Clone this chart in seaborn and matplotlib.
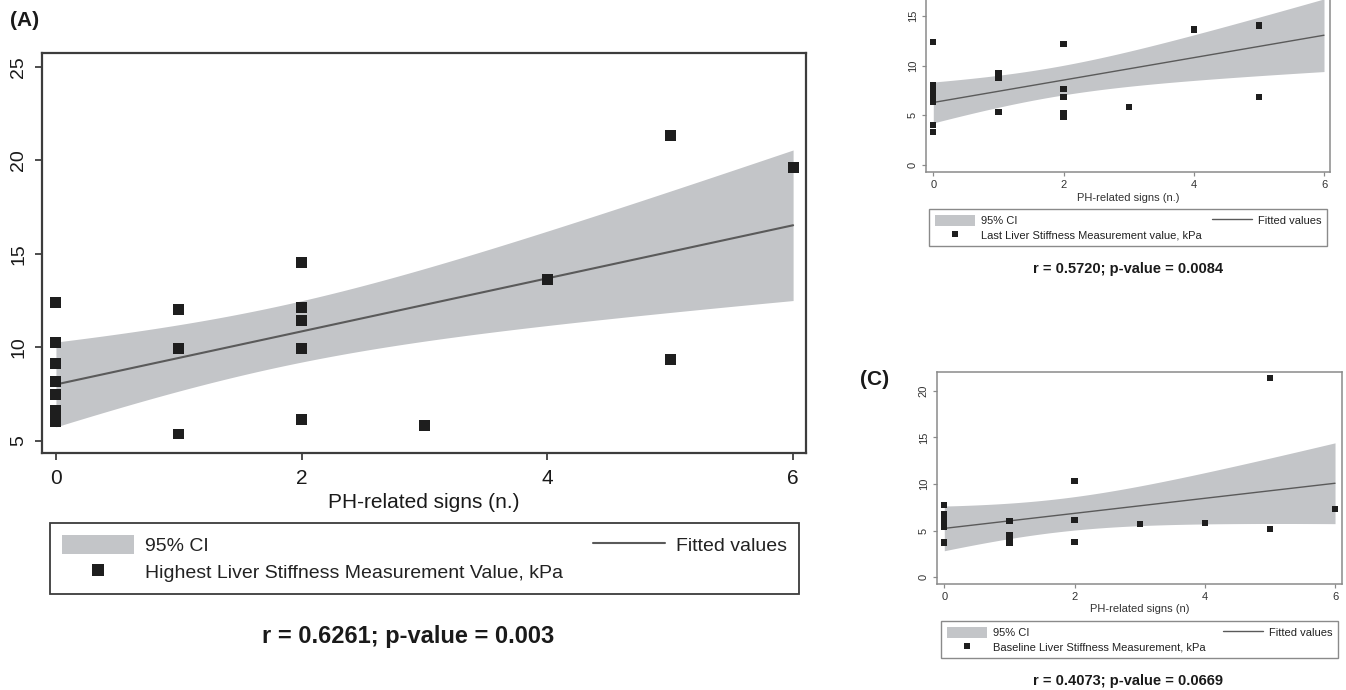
import numpy as np
import seaborn as sns
import matplotlib.pyplot as plt
from matplotlib.patches import Patch
from matplotlib.lines import Line2D

# PH-related signs vs liver stiffness (kPa)
signs_a = [0, 0, 0, 0, 0, 0, 0, 1, 1, 1, 2, 2, 2, 2, 2, 3, 4, 5, 5, 6]
lsm_a = [12.4, 10.25, 9.15, 8.17, 7.46, 6.64, 6.01, 12.03, 9.94, 5.36,
         14.52, 12.13, 11.42, 9.94, 6.16, 5.82, 13.63, 21.33, 9.32, 19.6]

signs_b = [0, 0, 0, 0, 0, 0, 0, 1, 1, 1, 2, 2, 2, 2, 2, 3, 4, 5, 5, 6]
lsm_b = [12.41, 8.07, 7.46, 6.86, 6.32, 4.0, 3.33, 9.21, 8.8, 5.35,
         12.14, 7.63, 6.83, 5.2, 4.85, 5.8, 13.64, 14.04, 6.83, 17.4]

signs_c = [0, 0, 0, 0, 0, 0, 0, 1, 1, 1, 1, 2, 2, 2, 3, 4, 5, 5, 6]
lsm_c = [7.75, 6.75, 6.45, 6.2, 5.95, 5.35, 3.7, 6.03, 4.5, 4.15, 3.7,
         10.36, 6.16, 3.73, 5.66, 5.77, 21.36, 5.16, 7.28]

stats_a = "r = 0.6261; p-value = 0.003"
stats_b = "r = 0.5720; p-value = 0.0084"
stats_c = "r = 0.4073; p-value = 0.0669"

ci_grey = "#c3c5c8"
fit_grey = "#5a5a5a"
dot_col = "#1e1e1e"

sns.set_theme(style="white")
plt.rcParams["font.family"] = ["Liberation Sans", "DejaVu Sans"]


def t975(df):
    # Cornish-Fisher approximation of the 97.5% t quantile
    z = 1.959964
    return z + (z**3 + z) / (4 * df) + (5 * z**5 + 16 * z**3 + 3 * z) / (96 * df**2)


def fit_ci(x, y):
    x = np.asarray(x, float)
    y = np.asarray(y, float)
    n = len(x)
    slope, icpt = np.polyfit(x, y, 1)
    xs = np.linspace(x.min(), x.max(), 120)
    yhat = icpt + slope * xs
    resid = y - (icpt + slope * x)
    s = np.sqrt((resid**2).sum() / (n - 2))
    se = s * np.sqrt(1 / n + (xs - x.mean())**2 / ((x - x.mean())**2).sum())
    half = t975(n - 2) * se
    return xs, yhat, yhat - half, yhat + half


def panel(ax, x, y, ms, lw_fit):
    xs, yhat, lo, hi = fit_ci(x, y)
    ax.fill_between(xs, lo, hi, color=ci_grey, lw=0, zorder=1)
    sns.lineplot(x=xs, y=yhat, ax=ax, color=fit_grey, lw=lw_fit, zorder=2)
    sns.scatterplot(x=x, y=y, ax=ax, marker="s", s=ms, color=dot_col,
                    edgecolor="none", linewidth=0, zorder=3)


def style(ax, xlim, ylim, yticks, fs, spine_col, spine_lw, tlen, ypad, xpad, lab_col):
    ax.set_xlim(*xlim)
    ax.set_ylim(*ylim)
    ax.set_xticks([0, 2, 4, 6])
    ax.set_yticks(yticks)
    for sp in ax.spines.values():
        sp.set_color(spine_col)
        sp.set_linewidth(spine_lw)
    ax.tick_params(axis="both", direction="out", length=tlen, width=spine_lw * 0.8,
                   color=spine_col, labelsize=fs, labelcolor=lab_col,
                   bottom=True, left=True)
    ax.tick_params(axis="y", pad=ypad)
    ax.tick_params(axis="x", pad=xpad)
    for lab in ax.get_yticklabels():
        lab.set_rotation(90)
        lab.set_va("center")
    ax.grid(False)


def key(ax, label, box, fs, hl, hh, ms, lw_fit, frame_col, frame_lw, lsp, bpad):
    handles = [Patch(facecolor=ci_grey, edgecolor="none"),
               Line2D([], [], ls="none", marker="s", color=dot_col, markersize=ms, markeredgewidth=0),
               Line2D([], [], color=fit_grey, lw=lw_fit)]
    labels = ["95% CI", label, "Fitted values"]
    leg = ax.legend(handles, labels, ncol=2, mode="expand", loc="upper left",
                    bbox_to_anchor=box, bbox_transform=fig.transFigure,
                    borderaxespad=0, fontsize=fs, handlelength=hl, handleheight=hh,
                    handletextpad=0.55, labelspacing=lsp, borderpad=bpad,
                    fancybox=False, framealpha=1, edgecolor=frame_col)
    leg.get_frame().set_linewidth(frame_lw)
    for t in leg.get_texts():
        t.set_color("#222222")


fig = plt.figure(figsize=(13.46, 6.9), dpi=100)
W, H = 1346, 690

# panel A
ax_a = fig.add_axes([42.3 / W, 1 - 452.7 / H, 763.7 / W, 399.4 / H])
panel(ax_a, signs_a, lsm_a, ms=62, lw_fit=1.5)
style(ax_a, (-0.111, 6.105), (4.36, 25.72), [5, 10, 15, 20, 25], 15,
      "#3c3c3c", 1.6, 5, 6, 7, "#1a1a1a")
ax_a.tick_params(axis="y", labelsize=14)
ax_a.set_xlabel("PH-related signs (n.)", fontsize=15, color="#1a1a1a", labelpad=3)
key(ax_a, "Highest Liver Stiffness Measurement Value, kPa",
    (50 / W, 1 - 592.7 / H, 749 / W, 70 / H), 14, 3.7, 1.13, 8, 1.5, "#3c3c3c", 1.3, 0.36, 0.62)
fig.text(408 / W, 1 - 637 / H, stats_a, ha="center", va="center",
         fontsize=17, fontweight="bold", color="#1a1a1a")
fig.text(25 / W, 1 - 20 / H, "(A)", ha="center", va="center",
         fontsize=15, fontweight="bold", color="#1a1a1a")

# panel B (top of the original is cropped, so the 20 tick is not shown)
ax_b = fig.add_axes([926 / W, 1 - 172 / H, 404 / W, 224.4 / H])
panel(ax_b, signs_b, lsm_b, ms=20, lw_fit=1.0)
style(ax_b, (-0.112, 6.092), (-0.74, 21.9), [0, 5, 10, 15], 8,
      "#8a8a8a", 1.1, 3, 3, 3, "#333333")
ax_b.set_xlabel("PH-related signs (n.)", fontsize=8, color="#333333", labelpad=2)
key(ax_b, "Last Liver Stiffness Measurement value, kPa",
    (929 / W, 1 - 246 / H, 398 / W, 37 / H), 8, 3.6, 1.15, 4, 1.0, "#8a8a8a", 1.0, 0.3, 0.5)
fig.text(1128 / W, 1 - 269.3 / H, stats_b, ha="center", va="center",
         fontsize=10.5, fontweight="bold", color="#1a1a1a")

# panel C
ax_c = fig.add_axes([937 / W, 1 - 584 / H, 405 / W, 212 / H])
panel(ax_c, signs_c, lsm_c, ms=20, lw_fit=1.0)
style(ax_c, (-0.112, 6.107), (-0.75, 22.04), [0, 5, 10, 15, 20], 8,
      "#8a8a8a", 1.1, 3, 3, 2.5, "#333333")
ax_c.set_xlabel("PH-related signs (n)", fontsize=8, color="#333333", labelpad=2)
key(ax_c, "Baseline Liver Stiffness Measurement, kPa",
    (941 / W, 1 - 657 / H, 397 / W, 36 / H), 8, 3.6, 1.15, 4, 1.0, "#8a8a8a", 1.0, 0.3, 0.5)
fig.text(1128 / W, 1 - 680.7 / H, stats_c, ha="center", va="center",
         fontsize=10.5, fontweight="bold", color="#1a1a1a")
fig.text(875 / W, 1 - 379.3 / H, "(C)", ha="center", va="center",
         fontsize=15, fontweight="bold", color="#1a1a1a")

fig.savefig("out.png", dpi=100)
